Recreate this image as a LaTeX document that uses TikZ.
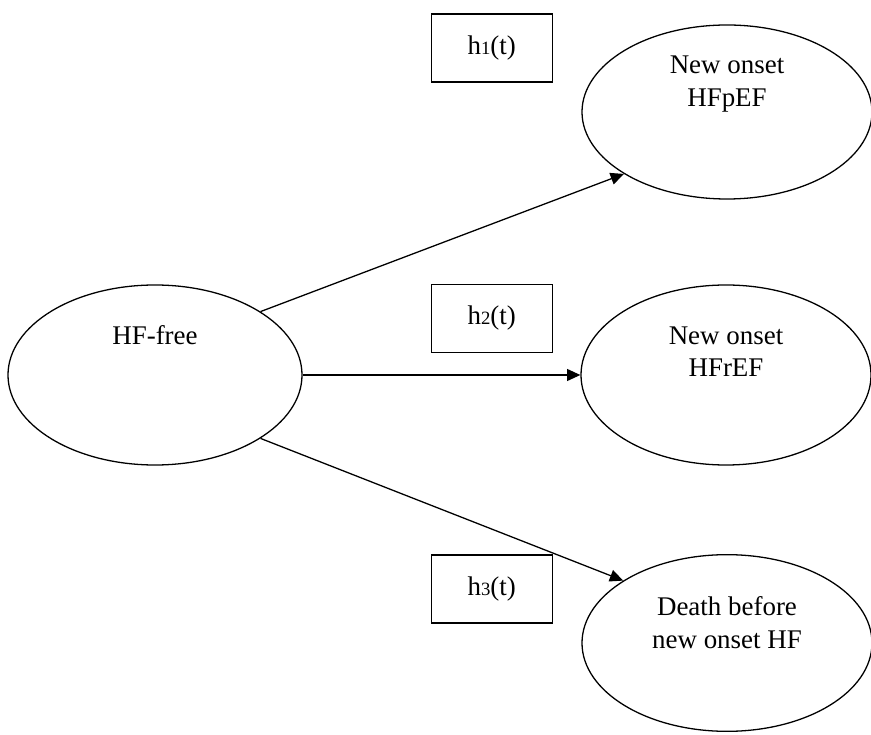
\documentclass[tikz,border=0pt]{standalone}
\usepackage{fontspec}
\setmainfont{Liberation Serif}
\usetikzlibrary{shapes.geometric,arrows.meta}
\newcommand{\hrate}[1]{h{\fontsize{16}{16}\selectfont #1}(t)}

\begin{document}
\begin{tikzpicture}[
    font=\fontsize{23}{28}\selectfont,
    line width=1.1pt,
    state/.style={ellipse, draw, minimum width=8.7cm, minimum height=5.4cm},
    hazard/.style={rectangle, draw, minimum width=3.63cm, minimum height=2.04cm},
    trans/.style={-{Triangle[length=0.4cm,width=0.36cm]}}
  ]
    \useasboundingbox (0,0) rectangle (26.13,22.02);

    % 状態
    \node[state, minimum width=8.82cm, label={[yshift=1.2cm]center:HF-free}] (free) at (4.65,10.77) {};
    \node[state, minimum height=5.22cm, label={[align=center, yshift=0.85cm]center:New onset\\HFpEF}] (pef) at (21.81,18.66) {};
    \node[state, label={[align=center, yshift=0.7cm]center:New onset\\HFrEF}] (ref) at (21.78,10.77) {};
    \node[state, minimum height=5.3cm, label={[align=center, yshift=0.6cm]center:Death before\\new onset HF}] (death) at (21.81,2.73) {};

    % ハザード
    \node[hazard] (h1) at (14.75,20.58) {\hrate{1}};
    \node[hazard] (h2) at (14.75,12.47) {\hrate{2}};
    \node[hazard] (h3) at (14.75,4.35) {\hrate{3}};

    % 遷移
    \draw[trans] (free.31) -- (pef.211);
    \draw[trans] (free.east) -- (ref.west);
    \draw[trans] (free.-31) -- (death.149);
\end{tikzpicture}
\end{document}
